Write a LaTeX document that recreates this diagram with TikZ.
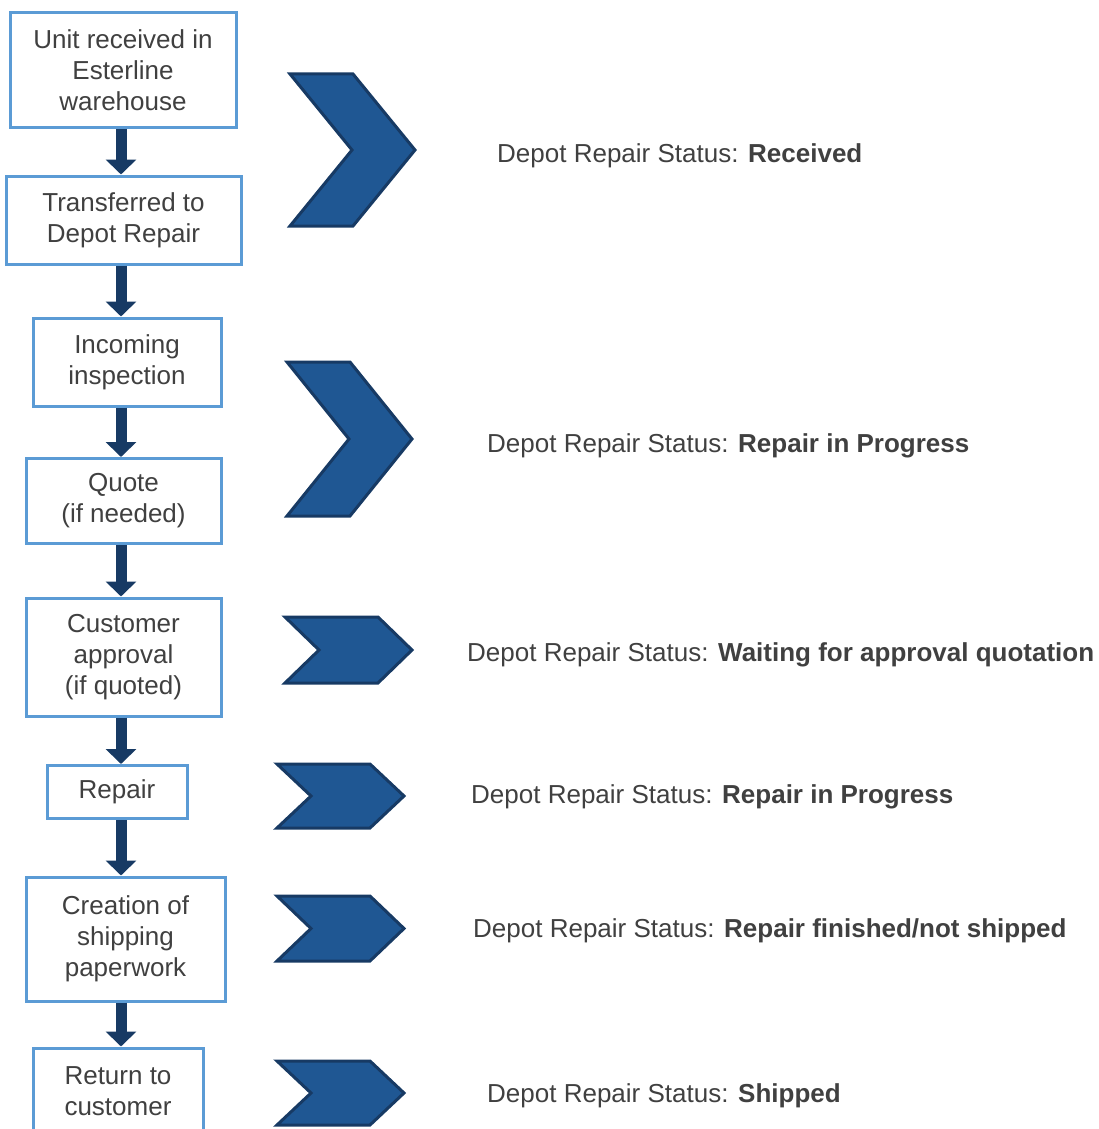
\documentclass[tikz,border=0pt]{standalone}
\usepackage{fontspec}
\setmainfont{Liberation Sans}
\usetikzlibrary{arrows.meta,positioning}
\definecolor{boxblue}{RGB}{91,155,213}
\definecolor{navy}{RGB}{23,58,100}
\definecolor{chevfill}{RGB}{31,87,147}
\definecolor{txtgray}{RGB}{64,64,64}
\tikzstyle{diagram}=[
  x=1pt,y=-1pt,font=\fontsize{26}{31}\selectfont,text=txtgray
]
\tikzstyle{stepbox}=[
  draw=boxblue,line width=3pt,align=center,inner sep=0pt,fill=white
]
\tikzstyle{flow}=[
  line width=11pt,draw=navy,-{Triangle[width=30pt,length=15pt]}
]
\tikzstyle{chev}=[
  draw=navy,line width=3pt,fill=chevfill,line join=miter
]
\tikzstyle{status}=[
  anchor=west,inner sep=0pt
]
% left, top, tip, bottom, depth
\newcommand{\statusarrow}[5]{%
  \draw[chev] (#1,#2) -- ({#3-#5},#2) -- (#3,{(#2+#4)/2}) -- ({#3-#5},#4)
    -- (#1,#4) -- ({#1+#5},{(#2+#4)/2}) -- cycle;}

\begin{document}
\begin{tikzpicture}[diagram]
    \useasboundingbox (0,0) rectangle (1098,1129);
    \coordinate (spine) at (121,0);
    % process steps
    \node (unit) at (123,70) [stepbox,minimum width=226pt,minimum height=115pt]
      {Unit received in\\Esterline\\warehouse};
    \node (transfer) at (123.5,220) [stepbox,minimum width=235pt,minimum height=88pt]
      {Transferred to\\Depot Repair};
    \node (incoming) at (127,362) [stepbox,minimum width=188pt,minimum height=88pt]
      {Incoming\\inspection};
    \node (quote) at (123.5,501) [stepbox,minimum width=195pt,minimum height=85pt]
      {Quote\\(if needed)};
    \node (approval) at (123.5,657) [stepbox,minimum width=195pt,minimum height=118pt]
      {Customer\\approval\\(if quoted)};
    \node (repair) at (117,792) [stepbox,minimum width=140pt,minimum height=53pt]
      {Repair};
    \node (paperwork) at (125.5,939) [stepbox,minimum width=199pt,minimum height=124pt]
      {Creation of\\shipping\\paperwork};
    \node (return) at (118,1091) [stepbox,minimum width=170pt,minimum height=86pt]
      {Return to\\customer};
    % flow arrows
    \draw[flow] (unit.south -| spine) -- (transfer.north -| spine);
    \draw[flow] (transfer.south -| spine) -- (incoming.north -| spine);
    \draw[flow] (incoming.south -| spine) -- (quote.north -| spine);
    \draw[flow] (quote.south -| spine) -- (approval.north -| spine);
    \draw[flow] (approval.south -| spine) -- (repair.north -| spine);
    \draw[flow] (repair.south -| spine) -- (paperwork.north -| spine);
    \draw[flow] (paperwork.south -| spine) -- (return.north -| spine);
    % chevrons
    \statusarrow{290}{74}{415}{226}{62}
    \statusarrow{287}{362}{412}{516}{62}
    \statusarrow{285}{617}{412}{683}{34}
    \statusarrow{277}{764}{404}{828}{34}
    \statusarrow{277}{896}{404}{961}{34}
    \statusarrow{277}{1061}{404}{1125}{34}
    % status texts
    \node (s1) at (497,156) [status] {Depot Repair Status: \textbf{Received}};
    \node (s2) at (487,446) [status] {Depot Repair Status: \textbf{Repair in Progress}};
    \node (s3) at (467,655) [status] {Depot Repair Status: \textbf{Waiting for approval quotation}};
    \node (s4) at (471,797) [status] {Depot Repair Status: \textbf{Repair in Progress}};
    \node (s5) at (473,931) [status] {Depot Repair Status: \textbf{Repair finished/not shipped}};
    \node (s6) at (487,1096) [status] {Depot Repair Status: \textbf{Shipped}};
\end{tikzpicture}
\end{document}
